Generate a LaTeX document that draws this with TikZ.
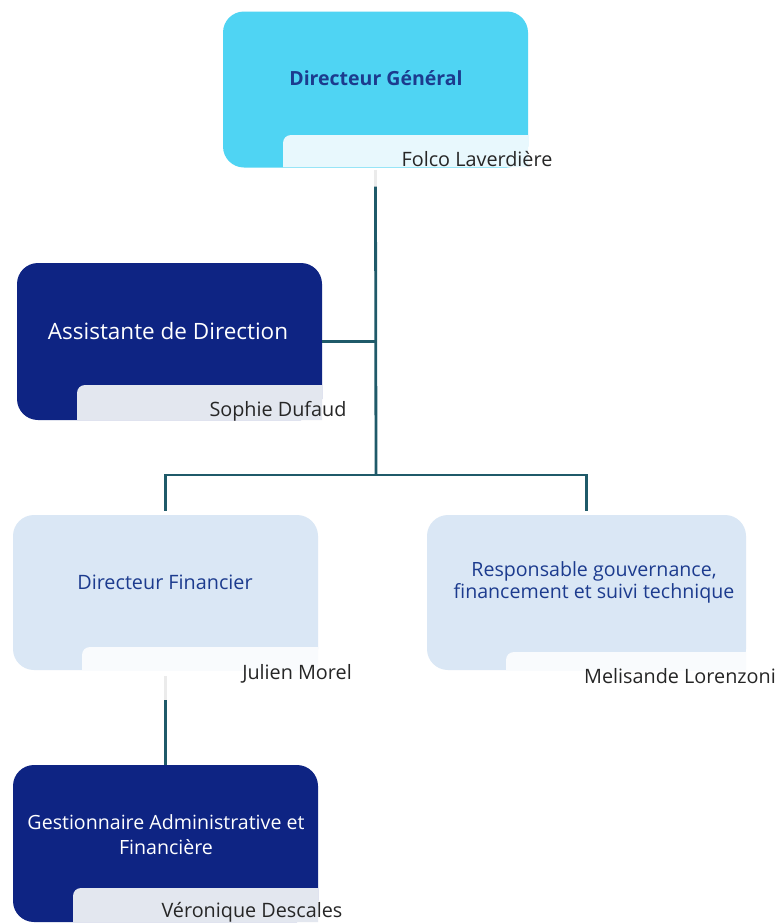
\documentclass[tikz,border=0pt]{standalone}
\usepackage{fontspec}
\setmainfont{Open Sans}
\definecolor{dgfill}{HTML}{4FD4F3}
\definecolor{dgtab}{HTML}{E8F8FD}
\definecolor{navy}{HTML}{0E2483}
\definecolor{navytab}{HTML}{E3E7EF}
\definecolor{lightbox}{HTML}{DAE7F5}
\definecolor{lighttab}{HTML}{F9FBFD}
\definecolor{titleblue}{HTML}{1C3B8E}
\definecolor{conncol}{HTML}{1F5A69}
\definecolor{namecol}{HTML}{262626}
\tikzset{
  boxshape/.style={rectangle, rounded corners=21pt, inner sep=0pt, minimum width=305pt, minimum height=156pt},
  conn/.style={draw=conncol, line width=2.8pt},
  faint/.style={draw=black!8, line width=2.8pt},
  nametext/.style={text=namecol, font=\fontsize{19.8}{22}\selectfont, inner sep=0pt},
}
\begin{document}
\begin{tikzpicture}[x=1pt,y=1pt]
\useasboundingbox (0,0) rectangle (779,-924);
\fill[white] (0,0) rectangle (779,-924);
% boxes
\node[boxshape, fill=dgfill] (dg) at (375.5,-89.5) {};
\node[boxshape, fill=navy, minimum height=157pt] (as) at (169.5,-341.5) {};
\node[boxshape, fill=lightbox, minimum height=155pt] (df) at (165.5,-592.5) {};
\node[boxshape, fill=lightbox, minimum width=319pt, minimum height=155pt] (rs) at (586.5,-592.5) {};
\node[boxshape, fill=navy, minimum height=157pt] (ge) at (165.5,-843.5) {};
% tabs
\fill[dgtab] (283,-167) -- (283,-143) arc (180:90:8) -- (528,-135) -- (528,-167) -- cycle;
\fill[navytab] (77,-420) -- (77,-393) arc (180:90:8) -- (322,-385) -- (322,-420) -- cycle;
\fill[lighttab] (82,-670) -- (82,-655) arc (180:90:8) -- (318,-647) -- (318,-670) -- cycle;
\fill[lighttab] (506,-670) -- (506,-660) arc (180:90:8) -- (746,-652) -- (746,-670) -- cycle;
\fill[navytab] (73,-922) -- (73,-896) arc (180:90:8) -- (318,-888) -- (318,-922) -- cycle;
% titles
\node[text=titleblue, font=\fontsize{19.5}{22}\selectfont\bfseries] (dgt) at (376,-78) {Directeur Général};
\node[text=white, font=\fontsize{22.5}{26}\selectfont] (ast) at (168,-331) {Assistante de Direction};
\node[text=titleblue, font=\fontsize{19.8}{22}\selectfont] (dft) at (165,-582) {Directeur Financier};
\node[text=titleblue, font=\fontsize{19.6}{22}\selectfont, align=center] (rst) at (594,-582) {Responsable gouvernance,\\financement et suivi technique};
\node[text=white, font=\fontsize{19.6}{25}\selectfont, align=center] (get) at (166,-835) {Gestionnaire Administrative et\\Financière};
% names
\node[nametext] (dgn) at (477,-159) {Folco Laverdière};
\node[nametext] (asn) at (278,-411) {Sophie Dufaud};
\node[nametext] (dfn) at (297,-674) {Julien Morel};
\node[nametext] (rsn) at (680,-676) {Melisande Lorenzoni};
\node[nametext] (gen) at (252,-912) {Véronique Descales};
% connectors
\coordinate (hub) at (376,-475);
\draw[faint] ([yshift=-2pt]dg.south) -- ([yshift=-19pt]dg.south);
\draw[conn] ([yshift=-19pt]dg.south) -- (hub);
\draw[conn] (as.east) -- (as.east -| hub);
\draw[conn] ([xshift=-1.4pt]df.north |- hub) -- ([xshift=1.4pt]rs.north |- hub);
\draw[conn] (df.north |- hub) -- ([yshift=4pt]df.north);
\draw[conn] (rs.north |- hub) -- ([yshift=4pt]rs.north);
\draw[faint] ([yshift=-6pt]df.south) -- ([yshift=-30pt]df.south);
\draw[conn] ([yshift=-30pt]df.south) -- (ge.north);
\end{tikzpicture}
\end{document}
